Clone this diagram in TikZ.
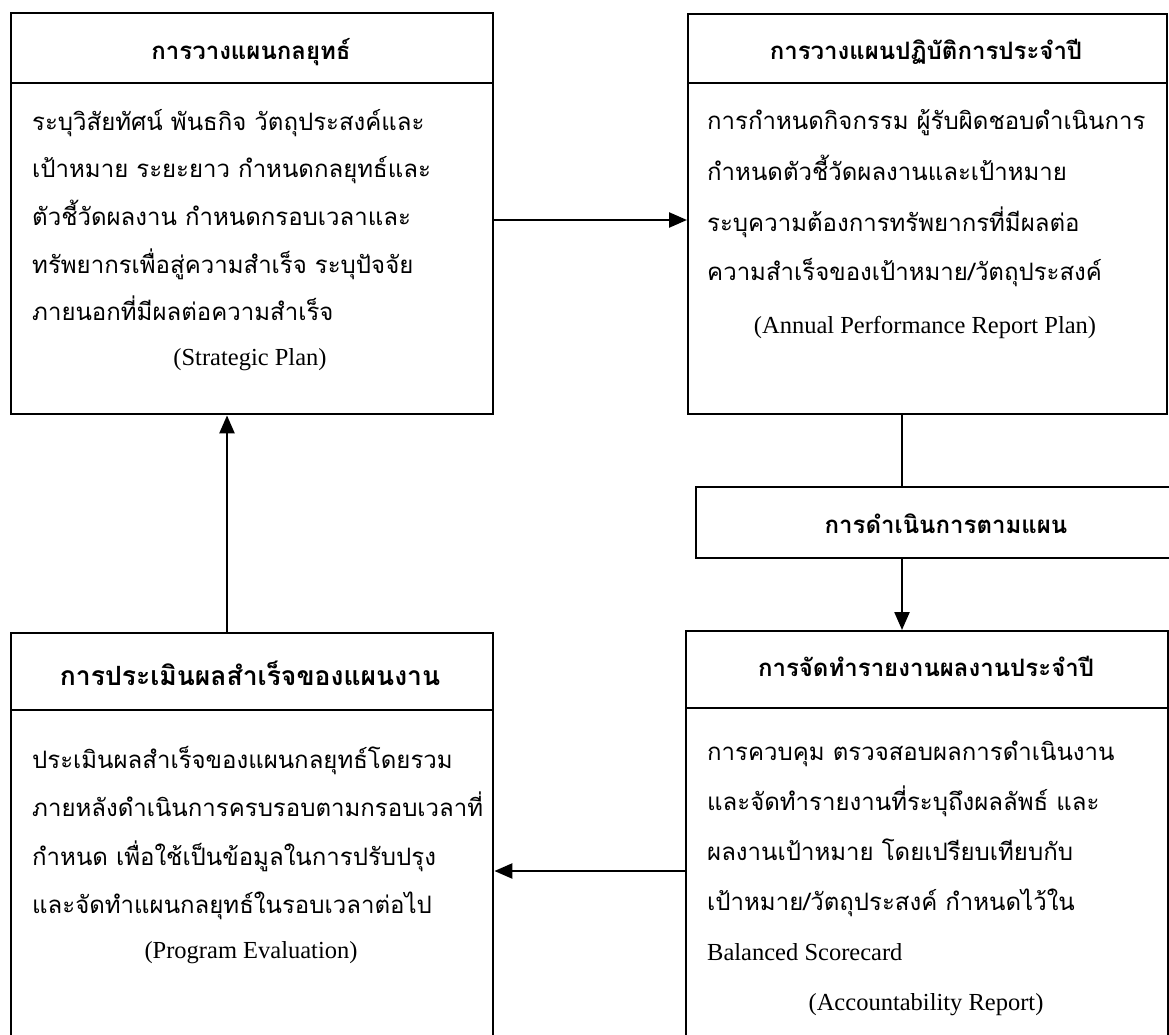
\documentclass[tikz,border=0pt]{standalone}
\usepackage{fontspec}
\setmainfont{Liberation Serif}
\newfontfamily\thai[Script=Thai]{Loma}
\usetikzlibrary{arrows.meta}
\tikzset{
  box/.style={draw, line width=2.4pt, anchor=north west, inner sep=0pt},
  conn/.style={line width=2.4pt},
  arr/.style={line width=2.4pt, -{Triangle[length=18pt,width=15pt]}},
  head/.style={font=\thai\bfseries\fontsize{24}{24}\selectfont, anchor=base, inner sep=0pt},
  bigtxt/.style={font=\thai\bfseries\fontsize{26.5}{26.5}\selectfont, anchor=base, inner sep=0pt},
  body/.style={font=\thai\fontsize{24}{24}\selectfont, anchor=base west, inner sep=0pt},
  eng/.style={font=\fontsize{24.5}{24.5}\selectfont, anchor=base, inner sep=0pt},
  engl/.style={font=\fontsize{24.5}{24.5}\selectfont, anchor=base west, inner sep=0pt},
}
\begin{document}
\begin{tikzpicture}[x=1pt,y=-1pt]
\clip (0,0) rectangle (1169,1035);
\fill[white] (0,0) rectangle (1169,1035);
% boxes
\node[box, minimum width=482pt, minimum height=401pt] (tl) at (10,12) {};
\node[box, minimum width=479pt, minimum height=400pt] (tr) at (687,13) {};
\node[box, minimum width=490pt, minimum height=71pt] (mid) at (695,486) {};
\node[box, minimum width=482pt, minimum height=420pt] (bl) at (10,632) {};
\node[box, minimum width=482pt, minimum height=420pt] (br) at (685,630) {};
% separators
\coordinate (s1) at (0,83);
\coordinate (s2) at (0,710);
\coordinate (s3) at (0,708);
\draw[conn] (tl.west |- s1) -- (tl.east |- s1);
\draw[conn] (tr.west |- s1) -- (tr.east |- s1);
\draw[conn] (bl.west |- s2) -- (bl.east |- s2);
\draw[conn] (br.west |- s3) -- (br.east |- s3);
% top-left text
\node[head] (tlh) at (251,60) {การวางแผนกลยุทธ์};
\node[body] (tl1) at (32,131) {ระบุวิสัยทัศน์ พันธกิจ วัตถุประสงค์และ};
\node[body] (tl2) at (32,178) {เป้าหมาย ระยะยาว กำหนดกลยุทธ์และ};
\node[body] (tl3) at (32,225) {ตัวชี้วัดผลงาน กำหนดกรอบเวลาและ};
\node[body] (tl4) at (32,273) {ทรัพยากรเพื่อสู่ความสำเร็จ ระบุปัจจัย};
\node[body] (tl5) at (32,320) {ภายนอกที่มีผลต่อความสำเร็จ};
\node[eng] (tl6) at (250,365) {(Strategic Plan)};
% top-right text
\node[head] (trh) at (926,60) {การวางแผนปฏิบัติการประจำปี};
\node[body] (tr1) at (707,130) {การกำหนดกิจกรรม ผู้รับผิดชอบดำเนินการ};
\node[body] (tr2) at (707,181) {กำหนดตัวชี้วัดผลงานและเป้าหมาย};
\node[body] (tr3) at (707,231) {ระบุความต้องการทรัพยากรที่มีผลต่อ};
\node[body] (tr4) at (707,280) {ความสำเร็จของเป้าหมาย/วัตถุประสงค์};
\node[eng] (tr5) at (925,333) {(Annual Performance Report Plan)};
% middle
\node[head] (midh) at (946,533) {การดำเนินการตามแผน};
% bottom-right text
\node[head] (brh) at (926,676) {การจัดทำรายงานผลงานประจำปี};
\node[body] (br1) at (707,760) {การควบคุม ตรวจสอบผลการดำเนินงาน};
\node[body] (br2) at (707,810) {และจัดทำรายงานที่ระบุถึงผลลัพธ์ และ};
\node[body] (br3) at (707,860) {ผลงานเป้าหมาย โดยเปรียบเทียบกับ};
\node[body] (br4) at (707,910) {เป้าหมาย/วัตถุประสงค์ กำหนดไว้ใน};
\node[engl] (br5) at (707,960) {Balanced Scorecard};
\node[eng] (br6) at (926,1010) {(Accountability Report)};
% bottom-left text
\node[bigtxt] (blh) at (250,685) {การประเมินผลสำเร็จของแผนงาน};
\node[body] (bl1) at (32,768) {ประเมินผลสำเร็จของแผนกลยุทธ์โดยรวม};
\node[body] (bl2) at (32,816) {ภายหลังดำเนินการครบรอบตามกรอบเวลาที่};
\node[body] (bl3) at (32,865) {กำหนด เพื่อใช้เป็นข้อมูลในการปรับปรุง};
\node[body] (bl4) at (32,913) {และจัดทำแผนกลยุทธ์ในรอบเวลาต่อไป};
\node[eng] (bl5) at (251,958) {(Program Evaluation)};
% connectors
\coordinate (y1) at (0,220);
\coordinate (y2) at (0,871);
\coordinate (x1) at (902,0);
\coordinate (x2) at (227,0);
\draw[arr] (tl.east |- y1) -- (tr.west |- y1);
\draw[conn] (x1 |- tr.south) -- (x1 |- mid.north);
\draw[arr] (x1 |- mid.south) -- (x1 |- br.north);
\draw[arr] (br.west |- y2) -- (bl.east |- y2);
\draw[arr] (x2 |- bl.north) -- (x2 |- tl.south);
\end{tikzpicture}
\end{document}
